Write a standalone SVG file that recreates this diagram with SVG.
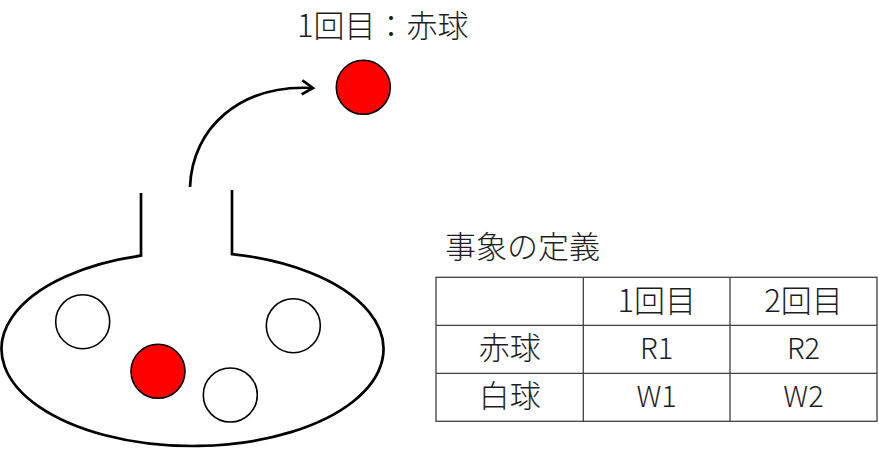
<svg xmlns="http://www.w3.org/2000/svg" width="879" height="449" viewBox="0 0 879 449">
<defs>
<style>
.t{font-family:"Noto Sans CJK JP","Noto Sans",sans-serif;font-size:31px;fill:#1e1e1e;font-weight:300}
.l{font-family:"Noto Sans CJK JP","Noto Sans",sans-serif;font-size:29px;fill:#1e1e1e;font-weight:300}
.c{text-anchor:middle}
.ball{stroke:#000;stroke-width:1.6}
.red{fill:#ff0000}
.white{fill:#fff}
.bag{fill:none;stroke:#000;stroke-width:2.7}
.grid{stroke:#404040;stroke-width:1.3;fill:none}
</style>
<marker id="ah" markerUnits="userSpaceOnUse" markerWidth="30" markerHeight="30" viewBox="-15 -15 30 30" refX="0" refY="0" orient="auto">
<path d="M-11,-7 L0,0 L-11,7" fill="none" stroke="#000" stroke-width="2.6" stroke-linejoin="miter"/>
</marker>
</defs>
<rect width="879" height="449" fill="#fff"/>

<g id="title">
<text class="t" x="297" y="37">1回目：赤球</text>
</g>

<g id="drawn-ball">
<circle class="ball red" cx="363.3" cy="87.3" r="27"/>
</g>

<g id="bag">
<path class="bag" d="M141,193 L141,255.6 A191,97 0 1 0 232,254.1 L232,190"/>
</g>

<g id="balls">
<circle class="ball white" cx="82.7" cy="321.7" r="27"/>
<circle class="ball red" cx="158" cy="371.3" r="27"/>
<circle class="ball white" cx="230.3" cy="395" r="27"/>
<circle class="ball white" cx="293.3" cy="325.7" r="27"/>
</g>

<g id="connectors">
<path d="M190,187 C192,128 240,84 313,88" fill="none" stroke="#000" stroke-width="2.7" marker-end="url(#ah)"/>
</g>

<g id="table">
<text class="t" x="445" y="258">事象の定義</text>
<rect class="grid" x="436" y="277.3" width="441" height="144"/>
<line class="grid" x1="436" y1="325.3" x2="877" y2="325.3"/>
<line class="grid" x1="436" y1="373.3" x2="877" y2="373.3"/>
<line class="grid" x1="583.3" y1="277.3" x2="583.3" y2="421.3"/>
<line class="grid" x1="730" y1="277.3" x2="730" y2="421.3"/>
<text class="t c" x="656.7" y="312">1回目</text>
<text class="t c" x="803.5" y="312">2回目</text>
<text class="t c" x="509.7" y="359">赤球</text>
<text class="l c" x="656.7" y="358.5">R1</text>
<text class="l c" x="803.5" y="358.5">R2</text>
<text class="t c" x="509.7" y="407">白球</text>
<text class="l c" x="656.7" y="406.7">W1</text>
<text class="l c" x="803.5" y="406.7">W2</text>
</g>
</svg>
